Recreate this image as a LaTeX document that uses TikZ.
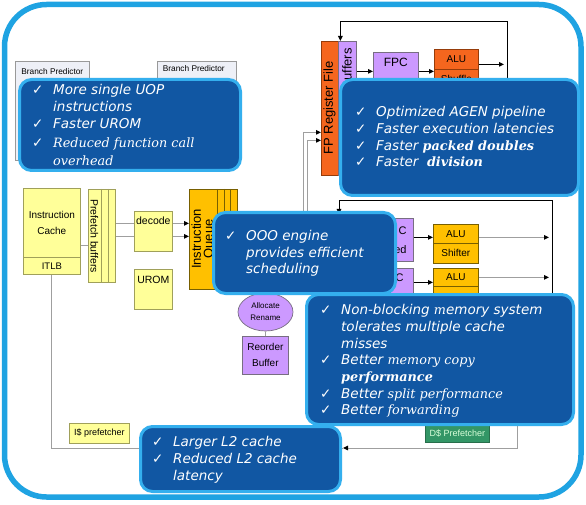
\documentclass[tikz,border=0pt]{standalone}
\usepackage{fontspec}
\setmainfont{Liberation Sans}
\newfontfamily\callsans{DejaVu Sans}
\newfontfamily\callserif{DejaVu Serif}
\usetikzlibrary{arrows.meta,shapes.geometric,positioning}

\definecolor{framecol}{RGB}{31,163,226}
\definecolor{callfill}{RGB}{17,87,163}
\definecolor{calledge}{RGB}{52,175,238}
\definecolor{yelfill}{RGB}{255,255,153}
\definecolor{yeldraw}{RGB}{160,160,90}
\definecolor{goldfill}{RGB}{255,192,0}
\definecolor{golddraw}{RGB}{120,95,0}
\definecolor{orfill}{RGB}{245,102,30}
\definecolor{ordraw}{RGB}{150,60,10}
\definecolor{purfill}{RGB}{204,153,255}
\definecolor{purdraw}{RGB}{120,110,130}
\definecolor{grnfill}{RGB}{51,150,102}
\definecolor{grndraw}{RGB}{40,110,75}
\definecolor{bpfill}{RGB}{238,240,247}

\newcommand\chk{\makebox[21pt][l]{\upshape ✓}}
\newcommand\ind{\hspace*{21pt}}
\newcommand\srf[1]{{\callserif\itshape\fontsize{12.8}{17}\selectfont #1}}
\newcommand\srfb[1]{{\callserif\bfseries\itshape\fontsize{12.8}{17}\selectfont #1}}
\newcommand\fst{\rule{0pt}{10.5pt}}

\tikzset{
	box/.style={draw, line width=0.7pt, anchor=north west, inner sep=0pt, align=center, font=\fontsize{10}{16}\selectfont},
	yelbox/.style={box, draw=yeldraw, fill=yelfill},
	goldbox/.style={box, draw=golddraw, fill=goldfill},
	orbox/.style={box, draw=ordraw, fill=orfill},
	purbox/.style={box, draw=purdraw, fill=purfill},
	grnbox/.style={box, draw=grndraw, fill=grnfill, text=white!85!green},
	bpbox/.style={box, draw=gray!80, fill=bpfill},
	purellipse/.style={ellipse, draw=purdraw, fill=purfill, line width=0.7pt, inner sep=0pt, align=center, font=\fontsize{8}{12}\selectfont},
	lbl/.style={inner sep=0pt, font=\fontsize{10}{12}\selectfont},
	gline/.style={draw=gray!75, line width=1pt},
	garrow/.style={gline, -{Triangle[length=5pt,width=4.5pt,color=black]}},
	blk/.style={draw=black, line width=1pt},
	callout/.style={draw=calledge, fill=callfill, line width=3pt, rounded corners=12pt, anchor=north west, inner sep=0pt},
	calltext/.style={anchor=north west, inner sep=0pt, text=white, align=left, font=\callsans\itshape\fontsize{13.5}{#1}\selectfont},
	calltext/.default=17
}

\begin{document}
\begin{tikzpicture}[x=1pt, y=-1pt, >={Triangle[length=5pt,width=4.5pt]}]
	\useasboundingbox (0,0) rectangle (586,505);
	% Define frame
	\draw[framecol, line width=5.5pt, rounded corners=42pt, fill=white] (4.5,4.5) rectangle (581,497);

	% Define branch predictors
	\node[bpbox, minimum width=74pt, minimum height=99pt] (BranchPred1) at (15,61) {};
	\node[lbl, anchor=base, font=\fontsize{8.3}{9}\selectfont] (BranchPred1Text) at ([yshift=-14pt]BranchPred1.north) {Branch Predictor};
	\node[bpbox, minimum width=79pt, minimum height=106pt] (BranchPred2) at (157,61) {};
	\node[lbl, anchor=base, font=\fontsize{8.3}{9}\selectfont] (BranchPred2Text) at ([yshift=-11pt, xshift=-3pt]BranchPred2.north) {Branch Predictor};

	% Define front end
	\node[yelbox, minimum width=57pt, minimum height=69pt] (InstrCache) at (23,188) {Instruction\\Cache};
	\node[yelbox, minimum width=57pt, minimum height=17pt, font=\fontsize{9.5}{10}\selectfont] (ITLB) at (23,257) {ITLB};
	\node[yelbox, minimum width=27pt, minimum height=93pt] (Prefetch) at (88,189) {};
	\draw[yeldraw, line width=0.7pt] ([xshift=13pt]Prefetch.north west) -- ([xshift=13pt]Prefetch.south west);
	\draw[yeldraw, line width=0.7pt] ([xshift=20pt]Prefetch.north west) -- ([xshift=20pt]Prefetch.south west);
	\node[lbl, rotate=-90, font=\fontsize{10.5}{12}\selectfont] (PrefetchText) at (94.5,236) {Prefetch buffers};
	\node[yelbox, minimum width=38pt, minimum height=40pt] (Decode) at (134,211) {};
	\node[lbl, anchor=base, font=\fontsize{10.5}{12}\selectfont] (DecodeText) at ([yshift=-13.5pt]Decode.north) {decode};
	\node[yelbox, minimum width=38pt, minimum height=40pt] (UROM) at (134,269) {};
	\node[lbl, anchor=base, font=\fontsize{10.5}{12}\selectfont] (UROMText) at ([yshift=-14pt]UROM.north) {UROM};
	\node[goldbox, minimum width=48pt, minimum height=100pt] (InstrQueue) at (189,189) {};
	\draw[golddraw, line width=0.7pt] ([xshift=28pt]InstrQueue.north west) -- ([xshift=28pt]InstrQueue.south west);
	\draw[golddraw, line width=0.7pt] ([xshift=35pt]InstrQueue.north west) -- ([xshift=35pt]InstrQueue.south west);
	\draw[golddraw, line width=0.7pt] ([xshift=41pt]InstrQueue.north west) -- ([xshift=41pt]InstrQueue.south west);
	\node[lbl, rotate=90, align=center, font=\fontsize{13}{12}\selectfont] (InstrQueueText) at (203.5,239) {Instruction\\Queue};

	\draw[gline] ([yshift=-22.5pt]InstrCache.east) -- ([yshift=-22.5pt]InstrCache.east -| Prefetch.west);
	\draw[gline] ([yshift=8pt]Decode.west -| Prefetch.east) -- ([yshift=8pt]Decode.west);
	\draw[gline] ([yshift=-5pt]Decode.west -| Prefetch.east) -- ([yshift=-5pt]Decode.west);
	\draw[garrow] ([yshift=8pt]Decode.east) -- ([yshift=8pt]Decode.east -| InstrQueue.west);
	\draw[garrow] ([yshift=-5pt]Decode.east) -- ([yshift=-5pt]Decode.east -| InstrQueue.west);

	% Define allocate and reorder
	\node[purellipse, minimum width=55pt, minimum height=38pt] (Allocate) at (265.5,312) {Allocate\\Rename};
	\node[purbox, minimum width=46pt, minimum height=38pt] (Reorder) at (242,336) {Reorder\\Buffer};
	\draw[gline, line width=0.7pt] (Allocate) -- (Reorder);

	% Define FP cluster
	\node[orbox, minimum width=17pt, minimum height=134pt] (FPRegFile) at (321,41) {};
	\node[lbl, rotate=90, font=\fontsize{13}{14}\selectfont] (FPRegFileText) at (329.5,108) {FP Register File};
	\node[purbox, minimum width=18pt, minimum height=134pt] (FPBuffers) at (338,41) {};
	\node[lbl, rotate=90, anchor=east, font=\fontsize{13}{14}\selectfont] (FPBuffersText) at (347,48) {Buffers};
	\node[purbox, minimum width=45pt, minimum height=38pt] (FPC) at (373,52) {};
	\node[lbl, anchor=base, font=\fontsize{12}{13}\selectfont] (FPCText) at ([yshift=-14.5pt]FPC.north) {FPC};
	\node[orbox, minimum width=44pt, minimum height=20pt] (FPALU) at (434,49) {ALU};
	\node[orbox, minimum width=44pt, minimum height=28pt] (FPShuffle) at (434,69) {};
	\node[lbl, anchor=base] (FPShuffleText) at ([yshift=-14pt]FPShuffle.north) {Shuffle};

	\coordinate (FPBusTop) at (507,22);
	\coordinate (FPBusLow) at (507,90);
	\coordinate (FPFeedA) at (303,250);
	\coordinate (FPFeedB) at (307,250);
	\draw[blk, ->] (FPBusLow) -- (FPBusTop) -| ([xshift=-7pt]FPBuffers.north);
	\draw[blk, ->] (FPBuffers.east |- FPC.west) -- (FPC.west);
	\draw[blk, ->] (FPC.east) -- (FPC.east -| FPALU.west);
	\draw[blk, ->, shorten >=3pt] ([yshift=-5pt]FPALU.east) -- ([yshift=-5pt]FPALU.east -| FPBusTop);
	\draw[garrow] (FPFeedA) |- ([yshift=-24pt]FPRegFile.west);
	\draw[garrow] (FPFeedB) |- ([yshift=-32pt]FPRegFile.west);

	% Define integer cluster
	\coordinate (IntBusTop) at (552,201);
	\coordinate (IntBusLow) at (552,293);
	\coordinate (IntIn) at (339,214);
	\draw[blk, ->] (IntBusLow) -- (IntBusTop) -| (IntIn);
	\node[purbox, minimum width=23pt, minimum height=43pt] (IntSched1) at (390,218) {};
	\node[lbl, anchor=east, align=right, font=\fontsize{11}{19}\selectfont] (IntSched1Text) at ([xshift=-7pt]IntSched1.east) {C\\ed};
	\node[goldbox, minimum width=45pt, minimum height=19pt] (IntALU1) at (433,224) {ALU};
	\node[goldbox, minimum width=45pt, minimum height=20pt] (IntShifter) at (433,243) {Shifter};
	\node[purbox, minimum width=23pt, minimum height=30pt] (IntSched2) at (390,268) {};
	\node[lbl, anchor=base east, font=\fontsize{11}{12}\selectfont] (IntSched2Text) at ([xshift=-10pt, yshift=-13pt]IntSched2.north east) {C};
	\node[goldbox, minimum width=45pt, minimum height=18pt] (IntALU2) at (433,268) {ALU};
	\node[goldbox, minimum width=45pt, minimum height=14pt] (IntALU2Low) at (433,286) {};

	\draw[blk, ->] ([yshift=2.5pt]IntSched1.east) -- ([yshift=2.5pt]IntSched1.east -| IntALU1.west);
	\draw[blk, ->] ([yshift=1pt]IntSched2.east) -- ([yshift=1pt]IntSched2.east -| IntALU2.west);
	\draw[garrow, shorten >=3pt] ([yshift=-3.5pt]IntALU1.east) -- ([yshift=-3.5pt]IntALU1.east -| IntBusTop);
	\draw[garrow, shorten >=3pt] (IntALU2.east) -- (IntALU2.east -| IntBusTop);

	% Define prefetchers
	\node[yelbox, minimum width=60pt, minimum height=20pt, font=\fontsize{9}{10}\selectfont] (IPrefetch) at (69,423) {I\$ prefetcher};
	\node[grnbox, minimum width=64pt, minimum height=17pt, font=\fontsize{9}{10}\selectfont] (DPrefetch) at (425,425) {D\$ Prefetcher};
	\coordinate (MemBusTop) at (517,405);
	\coordinate (MemBusLow) at (517,448);
	\coordinate (L2In) at (343,448);
	\draw[garrow] (MemBusTop) -- (MemBusLow) -- (L2In);
	\draw[gline] (L2In) -| (ITLB.south);

	% Define callouts
	\node[callout, minimum width=221pt, minimum height=91pt] (CalloutFront) at (18,78) {};
	\node[calltext] (CalloutFrontText) at (32,84) {\fst\chk More single UOP\\
		\ind instructions\\
		\chk Faster UROM\\[2pt]
		\chk\srf{Reduced function call}\\[1pt]
		\ind\srf{overhead}};

	\node[callout, minimum width=238pt, minimum height=116pt] (CalloutFP) at (339,78) {};
	\node[calltext=16.7] (CalloutFPText) at (355,106) {\fst\chk Optimized AGEN pipeline\\
		\chk Faster execution latencies\\
		\chk Faster \srfb{packed doubles}\\
		\chk Faster\ \ \srfb{division}};

	\node[callout, minimum width=182pt, minimum height=81pt] (CalloutOOO) at (212,211) {};
	\node[calltext=16.5] (CalloutOOOText) at (225,230) {\fst\chk OOO engine\\
		\ind provides efficient\\
		\ind scheduling};

	\node[callout, minimum width=267pt, minimum height=130pt] (CalloutMem) at (305,293) {};
	\node[calltext=16.7] (CalloutMemText) at (320,304) {\fst\chk Non-blocking \srf{m}emory system\\
		\ind tolerates multiple cache\\
		\ind misses\\
		\chk Better \srf{memory copy}\\
		\ind\srfb{performance}\\
		\chk Better \srf{split performance}\\
		\chk Better \srf{forwarding}};

	\node[callout, minimum width=200pt, minimum height=65pt] (CalloutL2) at (139,425) {};
	\node[calltext] (CalloutL2Text) at (152,436) {\fst\chk Larger L2 cache\\
		\chk Reduced L2 cache\\
		\ind latency};
\end{tikzpicture}
\end{document}
